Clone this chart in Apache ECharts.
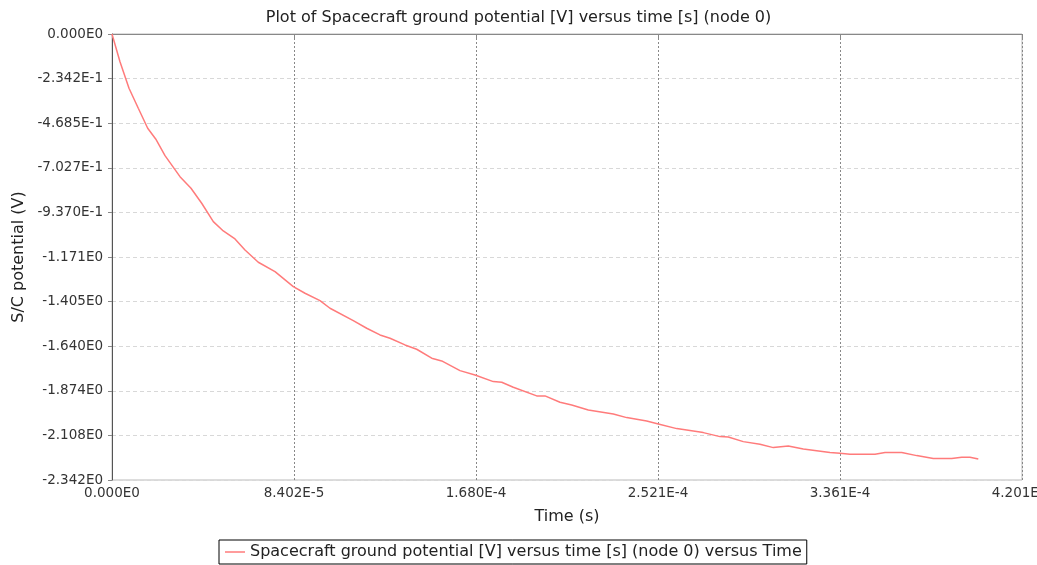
<!DOCTYPE html>
<html>
<head>
<meta charset="utf-8">
<script src="https://cdn.jsdelivr.net/npm/echarts@6/dist/echarts.min.js"></script>
<style>html,body{margin:0;padding:0;background:#fff;}#chart{width:1037px;height:565px;}</style>
</head>
<body>
<div id="chart"></div>
<script>
// Time values (s)
var times = [0, 3.69e-6, 7.85e-6, 12.14e-6, 16.48e-6, 20.17e-6, 24.47e-6, 31.39e-6, 36.47e-6, 41.41e-6,
  46.77e-6, 51.38e-6, 56.78e-6, 61.40e-6, 67.54e-6, 75.25e-6, 83.70e-6, 89.10e-6, 96.02e-6, 100.64e-6,
  111.39e-6, 117.58e-6, 123.72e-6, 128.34e-6, 135.26e-6, 140.66e-6, 147.59e-6, 152.21e-6, 160.65e-6, 167.58e-6,
  176.03e-6, 179.91e-6, 185.26e-6, 196.06e-6, 199.89e-6, 206.82e-6, 212.22e-6, 219.88e-6, 231.43e-6, 237.61e-6,
  246.84e-6, 252.20e-6, 260.69e-6, 272.97e-6, 280.68e-6, 284.51e-6, 291.43e-6, 299.15e-6, 305.29e-6, 312.21e-6,
  319.14e-6, 331.46e-6, 336.08e-6, 340.70e-6, 352.24e-6, 356.86e-6, 364.57e-6, 371.49e-6, 379.15e-6, 387.65e-6,
  392.26e-6, 396.09e-6, 399.93e-6];
// Spacecraft ground potential (V)
var potential = [0, -0.1455, -0.2851, -0.3902, -0.4952, -0.5514, -0.6391, -0.7493, -0.8102, -0.8890,
  -0.9856, -1.0345, -1.0765, -1.1342, -1.1988, -1.2482, -1.3270, -1.3616, -1.4005, -1.4404,
  -1.5055, -1.5454, -1.5806, -1.5979, -1.6331, -1.6557, -1.7029, -1.7171, -1.7681, -1.7906,
  -1.8258, -1.8290, -1.8552, -1.9009, -1.9009, -1.9340, -1.9482, -1.9744, -1.9954, -2.0148,
  -2.0322, -2.0479, -2.0726, -2.0936, -2.1146, -2.1162, -2.1409, -2.1545, -2.1724, -2.1635,
  -2.1792, -2.1986, -2.2018, -2.2070, -2.2070, -2.1986, -2.1986, -2.2144, -2.2301, -2.2301,
  -2.2228, -2.2228, -2.2317];
var xTickLabels = ['0.000E0', '8.402E-5', '1.680E-4', '2.521E-4', '3.361E-4', '4.201E-4'];
var yTickLabels = ['0.000E0', '-2.342E-1', '-4.685E-1', '-7.027E-1', '-9.370E-1', '-1.171E0',
  '-1.405E0', '-1.640E0', '-1.874E0', '-2.108E0', '-2.342E0'];
var xInterval = 8.402e-5;
var yInterval = 0.23425;

var seriesData = times.map(function (t, i) { return [t, potential[i]]; });
var FONT = 'DejaVu Sans';
var chart = echarts.init(document.getElementById('chart'), null, {renderer: 'canvas'});
chart.setOption({
  backgroundColor: '#ffffff',
  animation: false,
  title: {
    text: 'Plot of Spacecraft ground potential [V] versus time [s] (node 0)',
    left: 'center', top: 5,
    textStyle: {fontFamily: FONT, fontSize: 16, fontWeight: 'normal', color: '#222'}
  },
  legend: {
    bottom: 1, left: 219,
    data: ['Spacecraft ground potential [V] versus time [s] (node 0) versus Time'],
    icon: 'rect', itemWidth: 20, itemHeight: 1.5, itemGap: 5,
    borderColor: '#000', borderWidth: 1, borderRadius: 0,
    padding: [4, 5, 4, 6],
    textStyle: {fontFamily: FONT, fontSize: 16, color: '#222'}
  },
  grid: {left: 112, right: 15, top: 34, bottom: 85, outerBoundsMode: 'none', containLabel: false,
    show: true, borderColor: '#bbb', borderWidth: 1, backgroundColor: '#fff'},
  xAxis: {
    type: 'value', min: 0, max: xInterval * 5, interval: xInterval,
    name: 'Time (s)', nameLocation: 'middle', nameGap: 29,
    nameTextStyle: {fontFamily: FONT, fontSize: 16, color: '#222'},
    axisLine: {show: true, lineStyle: {color: '#888'}},
    axisTick: {show: true, length: 4, lineStyle: {color: '#888'}},
    axisLabel: {fontFamily: FONT, fontSize: 13.5, color: '#333', margin: 6, hideOverlap: false,
      formatter: function (v) { return xTickLabels[Math.round(v / xInterval)]; }},
    splitLine: {show: true, lineStyle: {color: '#888', type: [2, 2], width: 1}}
  },
  yAxis: {
    type: 'value', min: -yInterval * 10, max: 0, interval: yInterval,
    name: 'S/C potential (V)', nameLocation: 'middle', nameRotate: 90, nameGap: 85,
    nameTextStyle: {fontFamily: FONT, fontSize: 16, color: '#222'},
    axisLine: {show: true, lineStyle: {color: '#555'}},
    axisTick: {show: true, length: 4, lineStyle: {color: '#888'}},
    axisLabel: {fontFamily: FONT, fontSize: 13.5, color: '#333', margin: 9,
      formatter: function (v) { return yTickLabels[Math.round(-v / yInterval)]; }},
    splitLine: {show: true, lineStyle: {color: '#d8d8d8', type: [4, 3], width: 1}}
  },
  series: [{
    name: 'Spacecraft ground potential [V] versus time [s] (node 0) versus Time',
    type: 'line', data: seriesData, showSymbol: false, symbol: 'none',
    lineStyle: {color: '#ff7b7b', width: 1.5}, itemStyle: {color: '#ff7b7b'}
  }]
});
</script>
</body>
</html>
